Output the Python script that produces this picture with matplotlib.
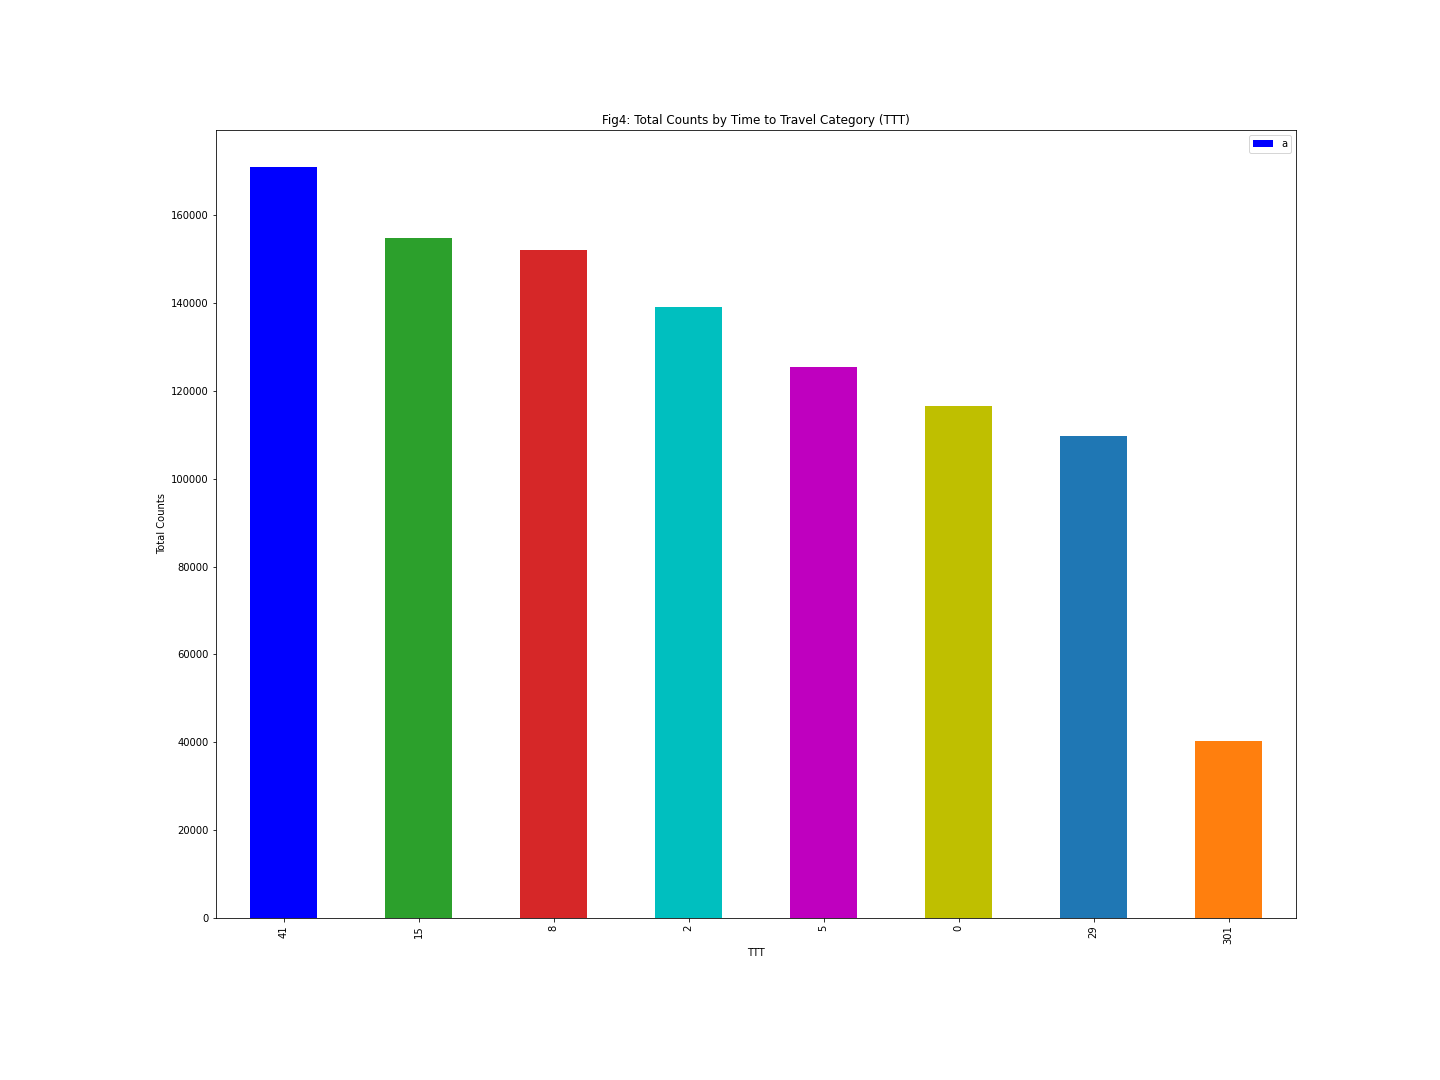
import numpy as np
import matplotlib
matplotlib.use('Agg')
import matplotlib.pyplot as plt
import pandas as pd

# values
ttt_labels = ['41', '15', '8', '2', '5', '0', '29', '301']
total_counts = [170900, 154800, 152000, 139100, 125400, 116500, 109700, 40300]
bar_colors = ['b', 'tab:green', 'tab:red', 'c', 'm', 'y', 'tab:blue', 'tab:orange']

df = pd.DataFrame({'a': total_counts}, index=ttt_labels)
df.index.name = 'TTT'

fig = plt.figure(figsize=(20, 15), dpi=72)
ax = fig.add_axes([0.15, 0.15, 0.75, 0.73])
df['a'].plot(kind='bar', ax=ax, color=bar_colors, legend=False)

ax.set_title('Fig4: Total Counts by Time to Travel Category (TTT)')
ax.set_xlabel('TTT')
ax.set_ylabel('Total Counts')
ax.legend(['a'], loc='upper right')

fig.savefig('out.png', dpi=72)
